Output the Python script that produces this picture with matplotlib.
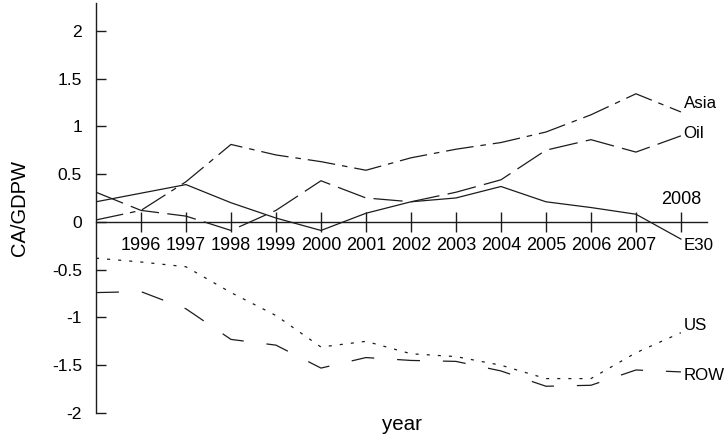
import matplotlib
matplotlib.use("Agg")
import matplotlib.pyplot as plt

plt.rcParams['axes.unicode_minus'] = False
plt.rcParams['lines.scale_dashes'] = False
plt.rcParams['font.family'] = ['Liberation Sans', 'DejaVu Sans']

# current account as share of world GDP, 1995-2008
years = [1995, 1996, 1997, 1998, 1999, 2000, 2001, 2002, 2003, 2004, 2005, 2006, 2007, 2008]
asia = [0.02, 0.12, 0.42, 0.81, 0.70, 0.63, 0.54, 0.67, 0.76, 0.83, 0.94, 1.12, 1.34, 1.15]
oil = [0.31, 0.12, 0.06, -0.09, 0.12, 0.43, 0.25, 0.21, 0.31, 0.44, 0.75, 0.86, 0.73, 0.90]
e30 = [0.21, 0.30, 0.39, 0.20, 0.04, -0.09, 0.09, 0.21, 0.25, 0.37, 0.21, 0.15, 0.08, -0.18]
us = [-0.38, -0.42, -0.47, -0.74, -0.98, -1.31, -1.25, -1.38, -1.41, -1.50, -1.64, -1.64, -1.37, -1.16]
row = [-0.74, -0.73, -0.91, -1.23, -1.29, -1.53, -1.42, -1.45, -1.46, -1.56, -1.72, -1.71, -1.55, -1.57]

series_names = ['Asia', 'Oil', 'E30', 'US', 'ROW']
label_y = [1.24, 0.92, -0.25, -1.08, -1.61]

ink = '#1c1c1c'
styles = {
    'Asia': (0, (20, 5, 4, 5)),
    'Oil': (0, (21, 6)),
    'E30': '-',
    'US': (0, (2.2, 5.8)),
    'ROW': (0, (16.5, 16.5)),
}

fig = plt.figure(figsize=(7.24, 4.36), dpi=100)
ax = fig.add_axes([96 / 724, 23 / 436, 611 / 724, 410 / 436])

for name, vals in zip(series_names, [asia, oil, e30, us, row]):
    ax.plot(years, vals, color=ink, lw=0.9, linestyle=styles[name])

# series names at the right-hand end of each line
for name, y in zip(series_names, label_y):
    ax.annotate(name, xy=(years[-1], y), xytext=(2, 0), textcoords='offset points',
                ha='left', va='center', fontsize=12.2, color='black')

ax.set_xlim(1995, 2008.58)
ax.set_ylim(-2, 2.29)

for side in ['top', 'right']:
    ax.spines[side].set_visible(False)
ax.spines['bottom'].set_position(('data', 0))
ax.spines['left'].set_bounds(-2, 2.29)
for side in ['left', 'bottom']:
    ax.spines[side].set_color(ink)
    ax.spines[side].set_linewidth(1.0)

yticks = [-2, -1.5, -1, -0.5, 0, 0.5, 1, 1.5, 2]
ax.set_yticks(yticks)
ax.set_yticklabels(['-2', '-1.5', '-1', '-0.5', '0', '0.5', '1', '1.5', '2'], fontsize=12.6)
ax.tick_params(axis='y', direction='in', length=7.2, width=1.0, color=ink, pad=10)

xticks = years[1:]
ax.set_xticks(xticks)
ax.set_xticklabels([str(y) for y in xticks[:-1]] + [''], fontsize=13)
ax.tick_params(axis='x', direction='inout', length=14.4, width=1.0, color=ink, pad=4)
# last year is labelled above the axis
ax.annotate(str(years[-1]), xy=(years[-1], 0), xytext=(0, 16), textcoords='offset points',
            ha='center', va='center', fontsize=13)

ax.set_ylabel('CA/GDPW', fontsize=14.5)
ax.yaxis.set_label_coords(-0.11, 0.5)
ax.set_xlabel('year', fontsize=14.8)
ax.xaxis.set_label_coords(0.5, -0.005)
ax.xaxis.label.set_va('top')

fig.savefig('out.png', dpi=100)
